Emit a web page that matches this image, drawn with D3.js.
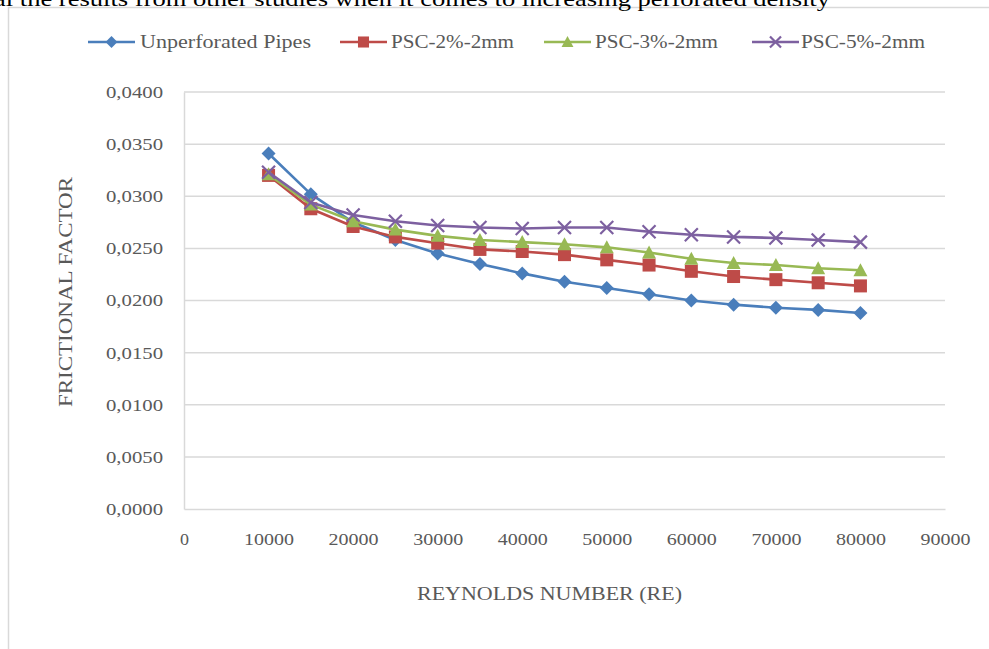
<!DOCTYPE html>
<html>
<head>
<meta charset="utf-8">
<script src="https://cdn.jsdelivr.net/npm/d3@7"></script>
<style>
  html, body { margin: 0; padding: 0; background: #fff; }
  svg { display: block; }
  text { font-family: "Liberation Serif", "Times New Roman", serif; fill: #595959; }
</style>
</head>
<body>
<svg id="chart" width="989" height="649"></svg>
<script>
const reynolds = [10000, 15000, 20000, 25000, 30000, 35000, 40000, 45000, 50000, 55000, 60000, 65000, 70000, 75000, 80000];
const unperforated = [0.0341, 0.0302, 0.0275, 0.0258, 0.0245, 0.0235, 0.0226, 0.0218, 0.0212, 0.0206, 0.0200, 0.0196, 0.0193, 0.0191, 0.0188];
const psc2 = [0.0320, 0.0288, 0.0271, 0.0261, 0.0255, 0.0249, 0.0247, 0.0244, 0.0239, 0.0234, 0.0228, 0.0223, 0.0220, 0.0217, 0.0214];
const psc3 = [0.0321, 0.0292, 0.0276, 0.0268, 0.0262, 0.0258, 0.0256, 0.0254, 0.0251, 0.0246, 0.0240, 0.0236, 0.0234, 0.0231, 0.0229];
const psc5 = [0.0323, 0.0294, 0.0282, 0.0276, 0.0272, 0.0270, 0.0269, 0.0270, 0.0270, 0.0266, 0.0263, 0.0261, 0.0260, 0.0258, 0.0256];
const seriesNames = ["Unperforated Pipes", "PSC-2%-2mm", "PSC-3%-2mm", "PSC-5%-2mm"];
const xTicks = [0, 10000, 20000, 30000, 40000, 50000, 60000, 70000, 80000, 90000];
const yTicks = [0, 0.005, 0.010, 0.015, 0.020, 0.025, 0.030, 0.035, 0.040];
const xTitle = "REYNOLDS NUMBER (RE)";
const yTitle = "FRICTIONAL FACTOR";
const topText = "al the results from other studies when it comes to increasing perforated density";

const series = [
  { name: seriesNames[0], values: unperforated, color: "#4a7ebb", marker: "diamond" },
  { name: seriesNames[1], values: psc2, color: "#be4b48", marker: "square" },
  { name: seriesNames[2], values: psc3, color: "#98b954", marker: "triangle" },
  { name: seriesNames[3], values: psc5, color: "#7d60a0", marker: "x" }
];

const svg = d3.select("#chart");
const plot = { left: 184, right: 945, top: 92, bottom: 509 };

const x = d3.scaleLinear().domain([0, 90000]).range([plot.left, plot.right]);
const y = d3.scaleLinear().domain([0, 0.04]).range([plot.bottom, plot.top]);

// chart frame
svg.append("rect")
  .attr("x", 8.5).attr("y", 7.5).attr("width", 1000).attr("height", 700)
  .attr("fill", "#fff").attr("stroke", "#d9d9d9").attr("stroke-width", 1.5);

// cut-off text at top (page text above the chart)
svg.append("text")
  .attr("x", -6).attr("y", 6)
  .attr("font-size", 21)
  .style("fill", "#000")
  .attr("textLength", 836).attr("lengthAdjust", "spacingAndGlyphs")
  .text(topText);

// gridlines
svg.append("g").selectAll("line").data(yTicks.filter(d => d > 0)).join("line")
  .attr("x1", plot.left).attr("x2", plot.right)
  .attr("y1", d => y(d)).attr("y2", d => y(d))
  .attr("stroke", "#d9d9d9").attr("stroke-width", 1.5);

// axes
const yAxis = d3.axisLeft(y).tickValues(yTicks).tickSize(0).tickPadding(21)
  .tickFormat(d => d3.format(".4f")(d).replace(".", ","));
const gy = svg.append("g").attr("transform", `translate(${plot.left},0)`).call(yAxis);
gy.select(".domain").attr("stroke", "#d9d9d9").attr("stroke-width", 1.5);
gy.selectAll("text").attr("font-size", 17).style("font-family", "'Liberation Serif', serif").style("fill", "#595959")
  .attr("textLength", 57).attr("lengthAdjust", "spacingAndGlyphs");

const xAxis = d3.axisBottom(x).tickValues(xTicks).tickSize(0).tickPadding(24)
  .tickFormat(d => String(d));
const gx = svg.append("g").attr("transform", `translate(0,${plot.bottom})`).call(xAxis);
gx.select(".domain").attr("stroke", "#d9d9d9").attr("stroke-width", 1.5);
gx.selectAll("text").attr("font-size", 17).style("font-family", "'Liberation Serif', serif").style("fill", "#595959")
  .attr("textLength", d => d === 0 ? 9 : 50).attr("lengthAdjust", "spacingAndGlyphs");

// axis titles
svg.append("text")
  .attr("x", 549.5).attr("y", 600)
  .attr("text-anchor", "middle").attr("font-size", 18)
  .attr("textLength", 265).attr("lengthAdjust", "spacingAndGlyphs")
  .text(xTitle);

svg.append("text")
  .attr("transform", "translate(72,292) rotate(-90)")
  .attr("text-anchor", "middle").attr("font-size", 18)
  .attr("textLength", 230).attr("lengthAdjust", "spacingAndGlyphs")
  .text(yTitle);

// marker drawing
function drawMarker(g, type, color, cx, cy, k) {
  if (type === "diamond") {
    const h = 7 * k;
    g.append("path").attr("d", `M${cx},${cy - h}L${cx + h},${cy}L${cx},${cy + h}L${cx - h},${cy}Z`).attr("fill", color);
  } else if (type === "square") {
    const h = 6.5 * k;
    g.append("rect").attr("x", cx - h).attr("y", cy - h).attr("width", 2 * h).attr("height", 2 * h).attr("fill", color);
  } else if (type === "triangle") {
    const h = 7 * k;
    g.append("path").attr("d", `M${cx},${cy - h}L${cx + h},${cy + h * 0.85}L${cx - h},${cy + h * 0.85}Z`).attr("fill", color);
  } else if (type === "x") {
    const h = 6.5 * k;
    g.append("path").attr("d", `M${cx - h},${cy - h}L${cx + h},${cy + h}M${cx - h},${cy + h}L${cx + h},${cy - h}`)
      .attr("stroke", color).attr("stroke-width", 2.2).attr("fill", "none");
  }
}

const line = d3.line().x(d => x(d[0])).y(d => y(d[1]));

series.forEach(s => {
  const pts = reynolds.map((r, i) => [r, s.values[i]]);
  const g = svg.append("g");
  g.append("path").datum(pts).attr("d", line)
    .attr("fill", "none").attr("stroke", s.color).attr("stroke-width", 2.6).attr("stroke-linejoin", "round");
  pts.forEach(p => drawMarker(g, s.marker, s.color, x(p[0]), y(p[1]), 1));
});

// legend
const legendItems = [
  { x0: 88, tx: 140, tw: 171 },
  { x0: 340, tx: 391, tw: 123 },
  { x0: 544, tx: 595, tw: 123 },
  { x0: 752, tx: 801, tw: 124 }
];
series.forEach((s, i) => {
  const L = legendItems[i];
  const g = svg.append("g");
  const ly = 42;
  g.append("line").attr("x1", L.x0).attr("x2", L.x0 + 47).attr("y1", ly).attr("y2", ly)
    .attr("stroke", s.color).attr("stroke-width", 2.6);
  drawMarker(g, s.marker, s.color, L.x0 + 23.5, ly, 0.85);
  g.append("text").attr("x", L.tx).attr("y", ly + 6).attr("font-size", 18)
    .attr("textLength", L.tw).attr("lengthAdjust", "spacingAndGlyphs")
    .text(s.name);
});
</script>
</body>
</html>
